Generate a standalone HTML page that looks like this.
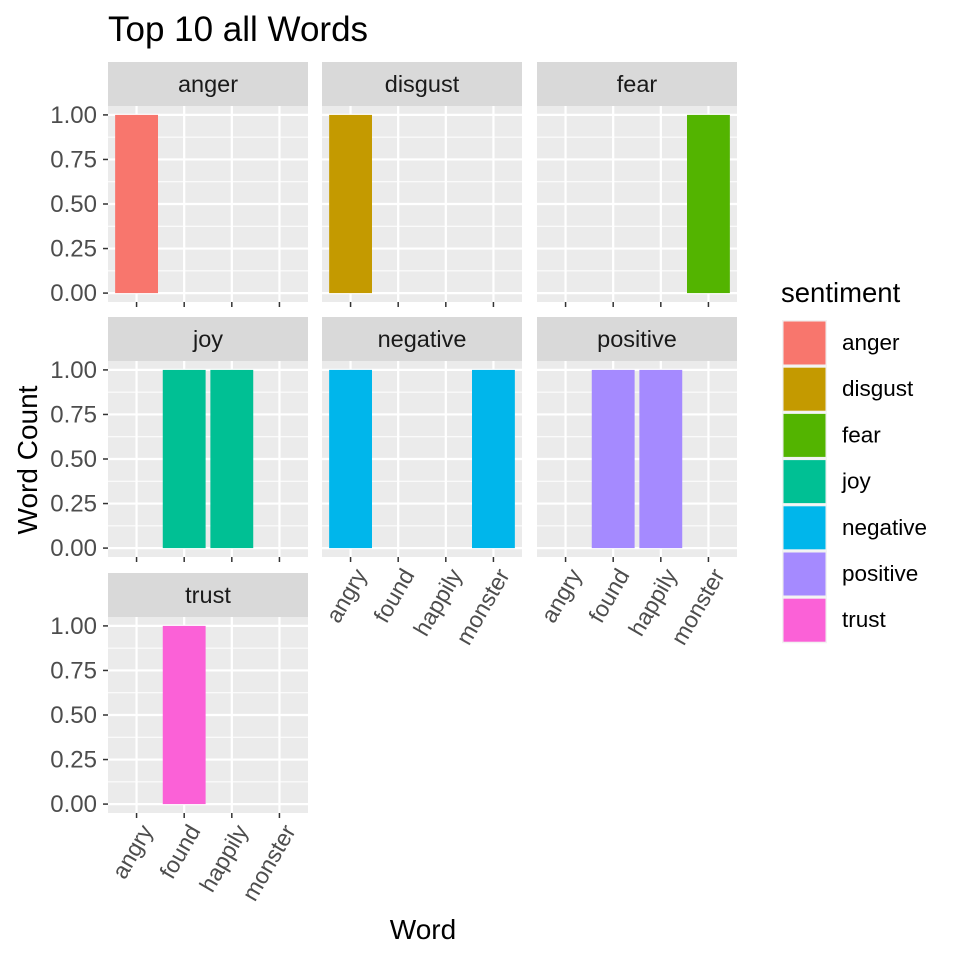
<!DOCTYPE html>
<html><head><meta charset="utf-8"><style>
body{margin:0;background:#fff}
svg{display:block;font-family:"Liberation Sans",Arial,sans-serif}
</style></head><body>
<svg id="c" width="960" height="960">
<text x="108" y="41" font-size="35" fill="#000">Top 10 all Words</text>
<text x="423" y="939" font-size="28" text-anchor="middle">Word</text>
<text transform="translate(37,460) rotate(-90)" font-size="28" text-anchor="middle">Word Count</text>
<g id="panels"></g>
<g id="legend"></g>
</svg>
<script>
const categories=["angry","found","happily","monster"];
const sentiments=["anger","disgust","fear","joy","negative","positive","trust"];
const colors=["#F8766D","#C49A00","#53B400","#00C094","#00B6EB","#A58AFF","#FB61D7"];
const angerVals=[1,0,0,0];
const disgustVals=[1,0,0,0];
const fearVals=[0,0,0,1];
const joyVals=[0,1,1,0];
const negativeVals=[1,0,0,1];
const positiveVals=[0,1,1,0];
const trustVals=[0,1,0,0];
const yTicks=[0,0.25,0.5,0.75,1];
const yTickLabels=["0.00","0.25","0.50","0.75","1.00"];
const series=[angerVals,disgustVals,fearVals,joyVals,negativeVals,positiveVals,trustVals];
const NS="http://www.w3.org/2000/svg";
function mk(t,a,p){const e=document.createElementNS(NS,t);for(const k in a)e.setAttribute(k,a[k]);p.appendChild(e);return e;}
const colX=[108,322,537], pw=200, rowY=[62,317,573], sh=44, ph=196;
const G=document.getElementById('panels');
sentiments.forEach((s,i)=>{
  const r=Math.floor(i/3), c=i%3, x0=colX[c], sy=rowY[r], py=sy+sh;
  const xs=v=>x0+(v+0.6)*pw/4.2;
  const ys=v=>py+ph-(v+0.05)*ph/1.1;
  const g=mk('g',{},G);
  
  
  const st=mk('rect',{x:x0,y:sy,width:pw,height:sh,fill:'#D9D9D9'},g);
  
  const tt=mk('text',{x:x0+pw/2,y:sy+30,'font-size':23.5,'text-anchor':'middle',fill:'#1A1A1A'},g);tt.textContent=s;
  
  mk('rect',{x:x0,y:py,width:pw,height:ph,fill:'#EBEBEB'},g);
  for(let k=0;k<yTicks.length-1;k++){const v=(yTicks[k]+yTicks[k+1])/2;mk('line',{x1:x0,x2:x0+pw,y1:ys(v),y2:ys(v),stroke:'#fff','stroke-width':1},g);}
  yTicks.forEach(v=>mk('line',{x1:x0,x2:x0+pw,y1:ys(v),y2:ys(v),stroke:'#fff','stroke-width':2.2},g));
  categories.forEach((cat,j)=>mk('line',{x1:xs(j),x2:xs(j),y1:py,y2:py+ph,stroke:'#fff','stroke-width':2.2},g));
  series[i].forEach((v,j)=>{if(v<=0)return;
    const b=mk('rect',{x:xs(j)-0.45*pw/4.2,y:ys(v),width:0.9*pw/4.2,height:ys(0)-ys(v),fill:colors[i]},g);
    
    
  });
  if(c===0){yTicks.forEach((v,k)=>{mk('line',{x1:x0-5,x2:x0,y1:ys(v),y2:ys(v),stroke:'#333','stroke-width':1.5},g);
    const t=mk('text',{x:x0-11,y:ys(v)+8,'font-size':24,'text-anchor':'end',fill:'#4D4D4D'},g);t.textContent=yTickLabels[k];
    });}
  categories.forEach((cat,j)=>mk('line',{x1:xs(j),x2:xs(j),y1:py+ph,y2:py+ph+5,stroke:'#333','stroke-width':1.5},g));
  if(i===6 || (r===1 && c>0)){
    categories.forEach((cat,j)=>{const t=mk('text',{'font-size':23,'text-anchor':'end',fill:'#4D4D4D',dy:'0.75em',transform:`translate(${xs(j)+2},${py+ph+9}) rotate(-60)`},g);t.textContent=cat;
      });
  }
});
const L=document.getElementById('legend');
const lt=mk('text',{x:781,y:302,'font-size':27.5},L);lt.textContent='sentiment';

sentiments.forEach((s,i)=>{const y=320+i*46.2;
  const g=mk('g',{},L);
  mk('rect',{x:782,y:y,width:45,height:46,fill:'#F2F2F2'},g);
  mk('rect',{x:783.5,y:y+1.5,width:42,height:43,fill:colors[i]},g);
  const t=mk('text',{x:842,y:y+30,'font-size':22.5},g);t.textContent=s;});
</script>
</body></html>
